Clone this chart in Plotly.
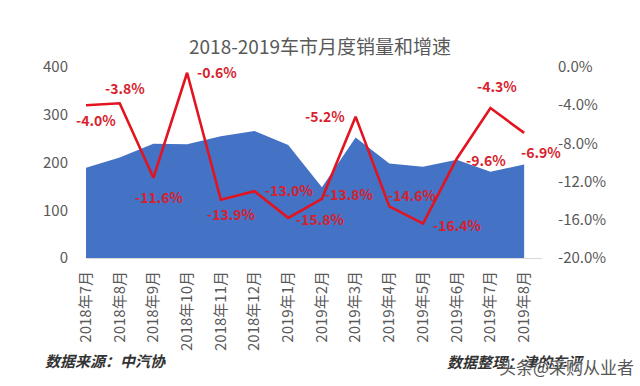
import plotly.graph_objects as go

# ---- data ----
months = ["2018年7月", "2018年8月", "2018年9月", "2018年10月", "2018年11月", "2018年12月",
          "2019年1月", "2019年2月", "2019年3月", "2019年4月", "2019年5月", "2019年6月",
          "2019年7月", "2019年8月"]
sales = [188.9, 210.3, 239.4, 238.0, 254.8, 266.1, 236.7, 148.2, 252.2, 198.0, 191.3, 205.6, 180.8, 195.8]
growth = [-4.0, -3.8, -11.6, -0.6, -13.9, -13.0, -15.8, -13.8, -5.2, -14.6, -16.4, -9.6, -4.3, -6.9]
left_ticks = [0, 100, 200, 300, 400]
right_ticks = [-20, -16, -12, -8, -4, 0]
right_tick_text = ["-20.0%", "-16.0%", "-12.0%", "-8.0%", "-4.0%", "0.0%"]

# ---- styling ----
# data-label offsets (px) relative to each point: (dx, dy up)
label_offsets = [(10, -15), (5, 15), (6, -19), (30, 1), (11, -14), (35, 1), (32, -1),
                 (28, 5), (-31, 1), (23, 11), (34, -1), (29, -1), (7, 22), (17, -19)]
FONT = "Noto Sans CJK SC"
GRAY = "#595959"
BLUE = "#4472C4"
RED = "#E3131F"
LABEL_RED = "#D71F2E"

fig = go.Figure()
fig.add_trace(go.Scatter(
    x=months, y=sales, mode="none", fill="tozeroy", fillcolor=BLUE,
    showlegend=False, hoverinfo="skip", yaxis="y"))
fig.add_trace(go.Scatter(
    x=months, y=growth, yaxis="y2", mode="lines",
    line=dict(color=RED, width=2.6),
    showlegend=False))

annotations = []
for m, v, (dx, dy) in zip(months, growth, label_offsets):
    annotations.append(dict(
        x=m, y=v, xref="x", yref="y2", text=f"{v:.1f}%", showarrow=False,
        xshift=dx, yshift=dy, xanchor="center", yanchor="middle",
        font=dict(family=FONT, size=14, color=LABEL_RED, weight="bold")))

annotations += [
    dict(text="<i>数据来源：中汽协</i>", xref="paper", yref="paper",
         x=(43 - 86) / 456, y=-(360 - 258) / 191, xanchor="left", yanchor="middle",
         showarrow=False, font=dict(family=FONT, size=15, color="#333333", weight="bold")),
    dict(text="<i>数据整理：津的车评</i>", xref="paper", yref="paper",
         x=(445 - 86) / 456, y=-(361 - 258) / 191, xanchor="left", yanchor="middle",
         showarrow=False, font=dict(family=FONT, size=15, color="#333333", weight="bold")),
    dict(text="头条@采购从业者", xref="paper", yref="paper",
         x=(497 - 86) / 456, y=-(366 - 258) / 191, xanchor="left", yanchor="middle",
         showarrow=False, font=dict(family=FONT, size=17, color="#555555",
                                    shadow="1px 1px 1px white")),
]

fig.update_layout(
    width=640, height=386,
    margin=dict(l=86, r=98, t=67, b=128),
    paper_bgcolor="white", plot_bgcolor="white",
    font=dict(family=FONT, color=GRAY, size=15),
    title=dict(text="2018-2019车市月度销量和增速", x=0.5, xref="container", xanchor="center",
               y=1 - 47 / 386, yref="container", yanchor="middle",
               font=dict(family=FONT, size=19, color=GRAY)),
    xaxis=dict(type="category", range=[0, 13.53], tickangle=-90,
               showline=True, linecolor="#D9D9D9", linewidth=1,
               ticks="outside", ticklen=6, tickcolor="rgba(0,0,0,0)",
               tickfont=dict(family=FONT, size=15, color=GRAY),
               showgrid=False, zeroline=False),
    yaxis=dict(range=[0, 400], tickvals=left_ticks, showgrid=False, zeroline=False,
               ticks="outside", ticklen=14, tickcolor="rgba(0,0,0,0)",
               tickfont=dict(family=FONT, size=15, color=GRAY)),
    yaxis2=dict(range=[-20, 0], overlaying="y", side="right", tickvals=right_ticks,
                ticktext=right_tick_text, showgrid=False, zeroline=False,
                ticks="outside", ticklen=12, tickcolor="rgba(0,0,0,0)",
                tickfont=dict(family=FONT, size=15, color=GRAY)),
    annotations=annotations,
)

fig.write_html("out.html", config={"displayModeBar": False},
               post_script="document.body.style.margin='0';")
